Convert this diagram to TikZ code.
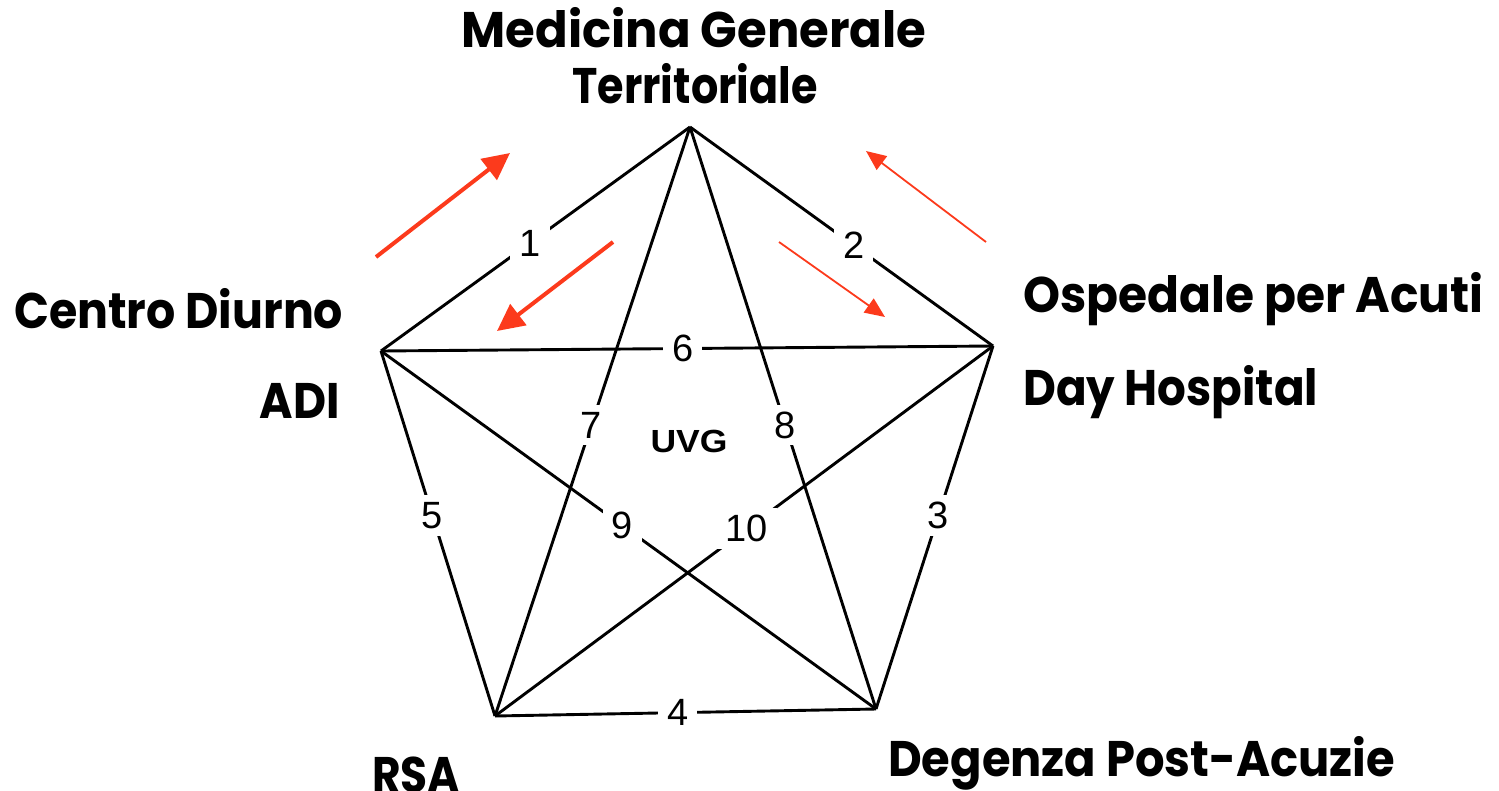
\documentclass[tikz,border=0pt]{standalone}
\usepackage{fontspec}
\usepackage{graphicx}
\usetikzlibrary{arrows.meta}
\newfontfamily\gothic{Poppins}
\newfontfamily\arial{Liberation Sans}
\definecolor{flowred}{RGB}{252,58,28}
% set a label to a fixed width, keeping its natural height
\newcommand{\fitw}[2]{\resizebox{#1pt}{\height}{#2}}
\tikzset{
  edge/.style={line width=2.9pt, black},
  num/.style={fill=white, inner xsep=9pt, inner ysep=7pt, font=\arial\fontsize{38}{40}\selectfont},
  place/.style={inner sep=0pt, font=\gothic\bfseries\fontsize{50}{56}\selectfont},
  bigflow/.style={flowred, line width=4pt, -{Triangle[length=27pt,width=26pt]}},
  smallflow/.style={flowred, line width=1.8pt, -{Triangle[length=20pt,width=17pt]}},
}
\begin{document}
\begin{tikzpicture}[x=1pt, y=-1pt]
\useasboundingbox (0,0) rectangle (1499,790);

% pentagon vertices
\coordinate (T)  at (690,127);
\coordinate (L)  at (381,351);
\coordinate (R)  at (993,346);
\coordinate (BL) at (495,716);
\coordinate (BR) at (876,709);

% connections between the services
\draw[edge] (T)  -- node[num, pos=0.518] (n1) {1} (L);
\draw[edge] (T)  -- node[num, pos=0.540] (n2) {2} (R);
\draw[edge] (R)  -- node[num, pos=0.466] (n3) {3} (BR);
\draw[edge] (BL) -- node[num, pos=0.480] (n4) {4} (BR);
\draw[edge] (L)  -- node[num, pos=0.450] (n5) {5} (BL);
\draw[edge] (L)  -- node[num, pos=0.493] (n6) {6} (R);
\draw[edge] (T)  -- node[num, pos=0.506] (n7) {7} (BL);
\draw[edge] (T)  -- node[num, pos=0.512] (n8) {8} (BR);
\draw[edge] (L)  -- node[num, pos=0.487] (n9) {9} (BR);
\draw[edge] (R)  -- node[num, pos=0.494] (n10) {10} (BL);

\node[inner sep=0pt, anchor=base, font=\arial\bfseries\fontsize{32}{34}\selectfont] (uvg) at (689,452) {\fitw{77}{UVG}};

% service names
\node[place, anchor=base] (mg1) at (694,47)  {\fitw{465}{Medicina Generale}};
\node[place, anchor=base] (mg2) at (695,103) {\fitw{245}{Territoriale}};
\node[place, anchor=base west] (cd)  at (14,328)   {\fitw{329}{Centro Diurno}};
\node[place, anchor=base east] (adi) at (340,418)  {\fitw{80}{ADI}};
\node[place, anchor=base west] (oa)  at (1023,312) {\fitw{460}{Ospedale per Acuti}};
\node[place, anchor=base west] (dh)  at (1023,405) {\fitw{295}{Day Hospital}};
\node[place, anchor=base west] (rsa) at (372,792)  {\fitw{88}{RSA}};
\node[place, anchor=base west] (dpa) at (888,776)  {\fitw{507}{Degenza Post-Acuzie}};

% flows around the top vertex
\coordinate (a1s) at (376,257);  \coordinate (a1e) at (510,153);
\coordinate (a2s) at (613,242);  \coordinate (a2e) at (497,331);
\coordinate (a3s) at (986,242);  \coordinate (a3e) at (866,151);
\coordinate (a4s) at (779,242);  \coordinate (a4e) at (885,317);
\draw[bigflow]   (a1s) -- (a1e);
\draw[bigflow]   (a2s) -- (a2e);
\draw[smallflow] (a3s) -- (a3e);
\draw[smallflow] (a4s) -- (a4e);
\end{tikzpicture}
\end{document}
